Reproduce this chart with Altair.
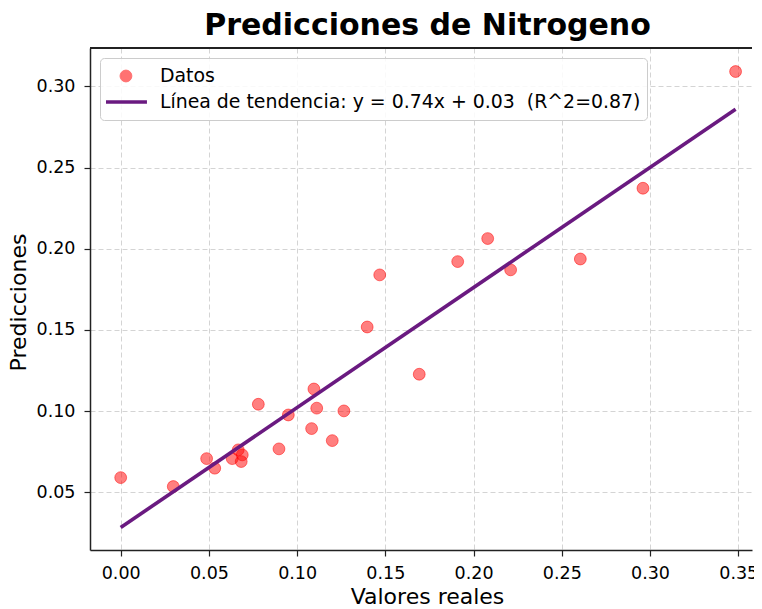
import altair as alt
import pandas as pd

# ---- data ----
valores_reales = [0.000, 0.0298, 0.0487, 0.0533, 0.0632, 0.0666, 0.0689, 0.0683,
                  0.0780, 0.0897, 0.0950, 0.1082, 0.1095, 0.1111, 0.1199, 0.1265,
                  0.1397, 0.1468, 0.1692, 0.1910, 0.2080, 0.2210, 0.2605, 0.2960,
                  0.3485]
predicciones = [0.0590, 0.0535, 0.0707, 0.0648, 0.0707, 0.0761, 0.0730, 0.0689,
                0.1042, 0.0767, 0.0976, 0.0892, 0.1136, 0.1018, 0.0818, 0.1001,
                0.1518, 0.1839, 0.1227, 0.1921, 0.2063, 0.1870, 0.1937, 0.2373,
                0.3092]
x_ticks = [0.00, 0.05, 0.10, 0.15, 0.20, 0.25, 0.30, 0.35]
y_ticks = [0.05, 0.10, 0.15, 0.20, 0.25, 0.30]
x_domain = [-0.0174, 0.3578]
y_domain = [0.0144, 0.3237]

TITULO = "Predicciones de Nitrogeno"
X_TITULO = "Valores reales"
Y_TITULO = "Predicciones"
SERIE_DATOS = "Datos"
SERIE_TENDENCIA = "Línea de tendencia: y = 0.74x + 0.03 \u00a0(R^2=0.87)"

ROJO = "red"
MORADO = "#6a1a80"
SPINE = "#222222"
FONT = "DejaVu Sans"

df = pd.DataFrame({"real": valores_reales, "pred": predicciones, "serie": SERIE_DATOS})

x_scale = alt.Scale(domain=x_domain, zero=False, nice=False)
y_scale = alt.Scale(domain=y_domain, zero=False, nice=False)
color_scale = alt.Scale(domain=[SERIE_DATOS, SERIE_TENDENCIA], range=[ROJO, MORADO])

is_d = f"datum.value == '{SERIE_DATOS}'"
legend = alt.Legend(
    title=None, orient="none", legendX=10, legendY=10,
    padding=6, clipHeight=24, rowPadding=2, symbolOffset=10.5, labelOffset=24.5,
    labelFontSize=18.9, labelFont=FONT, labelColor="black", labelLimit=800,
    strokeColor="#cccccc", fillColor="rgba(255,255,255,0.85)", cornerRadius=4,
    symbolType=alt.ExprRef(expr=f"{is_d} ? 'circle' : 'M-2,-0.17H2V0.17H-2Z'"),
    symbolSize=alt.ExprRef(expr=f"{is_d} ? 140 : 441"),
    symbolOpacity=alt.ExprRef(expr=f"{is_d} ? 0.55 : 1"),
    symbolFillColor=alt.ExprRef(expr=f"{is_d} ? '{ROJO}' : '{MORADO}'"),
    symbolStrokeColor=alt.ExprRef(expr=f"{is_d} ? '{ROJO}' : '{MORADO}'"),
    symbolStrokeWidth=alt.ExprRef(expr=f"{is_d} ? 1 : 0"),
)

axis_common = dict(
    labelFont=FONT, labelFontSize=17.5, labelColor="black",
    titleFont=FONT, titleFontSize=22, titleColor="black", titleFontWeight="normal",
    domainColor=SPINE, domainWidth=1.5,
    tickColor=SPINE, tickWidth=1.2, tickSize=6,
    grid=True, gridColor="#d4d4d4", gridDash=[5, 3], gridWidth=1,
)

x_axis = alt.Axis(values=x_ticks, format=".2f", orient="bottom", labelPadding=8,
                  title=X_TITULO, titleX=337, titleY=53,
                  titleBaseline="alphabetic", **axis_common)
y_axis = alt.Axis(values=y_ticks, format=".2f", orient="left", labelPadding=9,
                  title=Y_TITULO, titleX=-65, titleY=254,
                  titleBaseline="alphabetic", titleAngle=270, **axis_common)

points = alt.Chart(df).mark_circle(
    size=140, opacity=1, fillOpacity=0.5, stroke=ROJO, strokeOpacity=0.5, strokeWidth=1
).encode(
    x=alt.X("real:Q", scale=x_scale, axis=x_axis),
    y=alt.Y("pred:Q", scale=y_scale, axis=y_axis),
    color=alt.Color("serie:N", scale=color_scale, legend=legend),
)

line = alt.Chart(df).transform_regression("real", "pred").transform_calculate(
    serie=f"'{SERIE_TENDENCIA}'"
).mark_line(strokeWidth=3.6).encode(
    x=alt.X("real:Q", scale=x_scale, axis=x_axis),
    y=alt.Y("pred:Q", scale=y_scale, axis=y_axis),
    color=alt.Color("serie:N", scale=color_scale, legend=legend),
)

# top frame line of the axes box, placed at the top of the y domain
top_spine = alt.Chart(df).mark_rule(color=SPINE, strokeWidth=1.5).encode(
    x=alt.X(datum=x_domain[0], type="quantitative", scale=x_scale, axis=x_axis),
    x2=alt.X2(datum=x_domain[1]),
    y=alt.Y(datum=y_domain[1], type="quantitative", scale=y_scale, axis=y_axis),
)

chart = alt.layer(points, line, top_spine).properties(
    width=662, height=502,
    padding={"left": 82, "top": 40, "right": 2, "bottom": 58},
    autosize=alt.AutoSizeParams(type="none"),
    title=alt.TitleParams(TITULO, fontSize=30, font=FONT, fontWeight="bold",
                          anchor="middle", frame="group", dx=6.5, offset=-18,
                          baseline="alphabetic", color="black"),
).configure_view(stroke="transparent", strokeWidth=0)

chart.save("out.html", embed_options={"renderer": "svg", "actions": False})
